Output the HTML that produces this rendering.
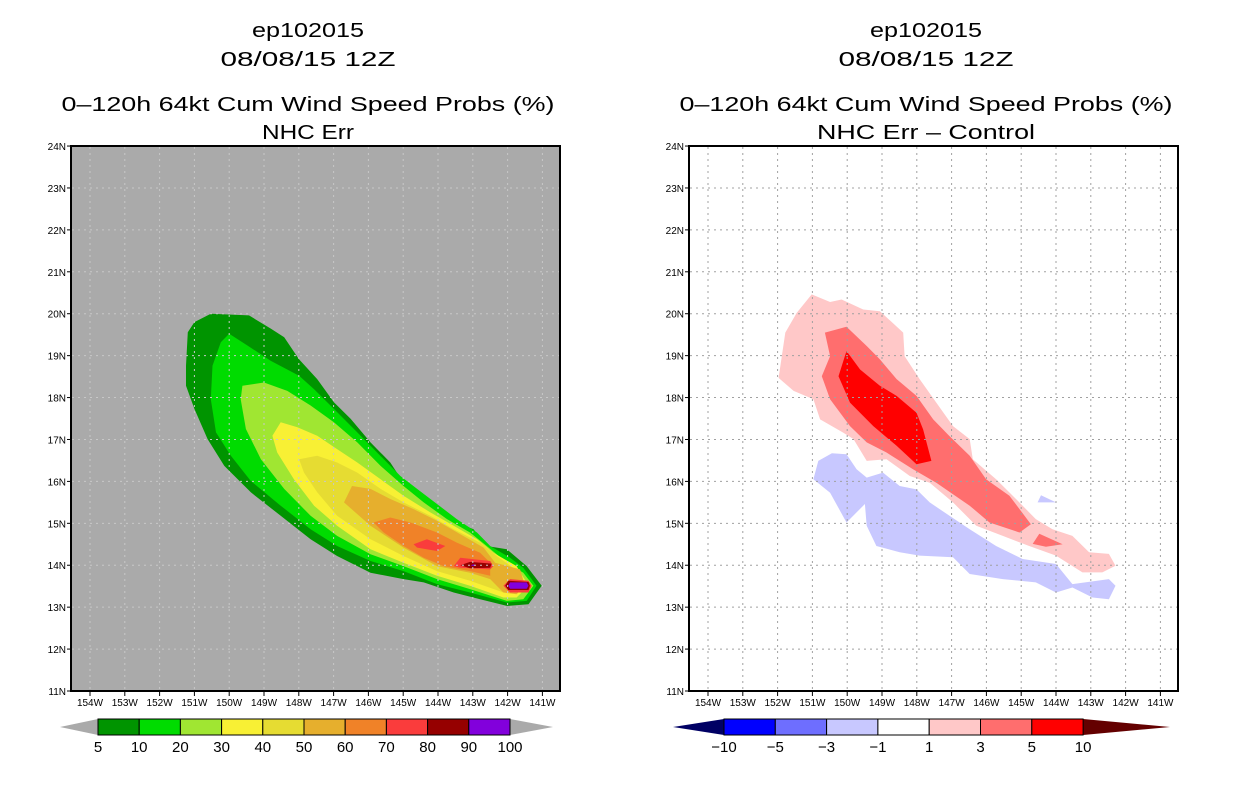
<!DOCTYPE html>
<html><head><meta charset="utf-8"><style>
body{margin:0;background:#fff;width:1236px;height:800px;overflow:hidden}
svg{display:block}
text{font-family:"Liberation Sans",sans-serif;fill:#000}
</style></head><body>
<svg id="chart" width="1236" height="800" viewBox="0 0 1236 800" xmlns="http://www.w3.org/2000/svg"></svg>
<script>
const lonTicks=[154,153,152,151,150,149,148,147,146,145,144,143,142,141];
const latTicks=[11,12,13,14,15,16,17,18,19,20,21,22,23,24];
const probLevels=["5","10","20","30","40","50","60","70","80","90","100"];
const probColors=["#009400","#00dc00","#a0e632","#f8f034","#e6dc32","#e6af2d","#f08228","#fa3c3c","#960000","#8200dc"];
const diffLevels=["−10","−5","−3","−1","1","3","5","10"];
const diffColors=["#0000ff","#6e6eff","#c8c8ff","#ffffff","#ffc8c8","#ff6e6e","#ff0000"];
const p5=[[151.0,19.8],[150.53,20.0],[149.43,19.96],[148.8,19.64],[148.42,19.44],[148.0,18.92],[147.47,18.44],[146.99,17.89],[146.51,17.49],[145.94,16.93],[145.37,16.45],[144.99,15.97],[144.51,15.74],[144.03,15.42],[143.46,15.02],[142.98,14.86],[142.6,14.46],[142.02,14.38],[141.45,13.98],[141.02,13.51],[141.4,13.07],[142.02,13.03],[142.79,13.19],[143.55,13.35],[144.41,13.59],[144.99,13.67],[145.94,13.82],[146.9,14.22],[147.66,14.62],[148.52,15.18],[149.38,15.74],[150.14,16.37],[150.62,17.01],[151.0,17.73],[151.24,18.28],[151.24,18.76],[151.19,19.56]];
const p10=[[150.0,19.52],[149.47,19.24],[148.81,18.88],[147.99,18.52],[147.56,18.2],[146.99,17.73],[146.32,17.17],[145.75,16.69],[145.08,16.13],[144.6,15.82],[144.03,15.46],[143.46,15.1],[142.88,14.78],[142.5,14.46],[141.93,14.18],[141.55,13.94],[141.17,13.51],[141.45,13.15],[142.02,13.11],[143.08,13.35],[144.03,13.55],[144.99,13.86],[145.94,14.1],[146.9,14.46],[147.66,14.86],[148.52,15.42],[149.38,16.01],[149.95,16.61],[150.38,17.17],[150.53,17.96],[150.48,18.76],[150.24,19.32]];
const p20=[[149.62,18.28],[149.0,18.36],[148.33,18.16],[147.66,17.81],[146.99,17.41],[146.32,16.93],[145.65,16.37],[144.99,15.89],[144.41,15.5],[143.74,15.1],[143.08,14.78],[142.6,14.46],[142.02,14.06],[141.55,13.82],[141.26,13.51],[141.55,13.19],[142.02,13.15],[143.08,13.43],[144.03,13.67],[144.99,13.98],[145.94,14.26],[146.9,14.7],[147.66,15.18],[148.42,15.82],[149.09,16.53],[149.52,17.25],[149.67,17.96]];
const p30=[[148.52,17.41],[148.04,17.29],[147.47,17.09],[146.9,16.77],[146.32,16.45],[145.65,16.05],[144.99,15.66],[144.22,15.26],[143.55,14.94],[142.88,14.62],[142.41,14.3],[141.74,13.98],[141.4,13.51],[141.74,13.23],[142.12,13.23],[143.08,13.51],[144.03,13.75],[144.99,14.06],[145.94,14.38],[146.9,14.94],[147.56,15.42],[148.14,16.05],[148.62,16.69],[148.76,17.09]];
const p40=[[147.99,16.53],[147.47,16.61],[146.9,16.45],[146.32,16.21],[145.65,15.82],[144.99,15.5],[144.22,15.18],[143.55,14.86],[142.79,14.54],[142.31,14.22],[141.64,13.82],[141.55,13.51],[141.74,13.35],[142.12,13.35],[143.08,13.63],[144.03,13.86],[144.99,14.22],[145.94,14.62],[146.9,15.18],[147.47,15.74],[147.85,16.21]];
const p50=[[146.47,15.89],[145.94,15.82],[145.37,15.58],[144.7,15.34],[144.03,15.06],[143.36,14.74],[142.69,14.42],[142.36,14.06],[141.64,13.9],[141.5,13.51],[141.74,13.31],[142.12,13.35],[142.5,13.67],[143.08,13.82],[144.03,13.98],[144.99,14.42],[145.94,14.94],[146.7,15.5]];
const p60=[[145.85,15.02],[145.37,15.14],[144.79,15.02],[144.03,14.78],[143.46,14.54],[142.79,14.3],[142.5,14.06],[142.5,13.75],[143.08,13.86],[143.84,13.98],[144.41,14.18],[144.99,14.46],[145.56,14.78]];
const p70a=[[144.7,14.5],[144.32,14.62],[143.79,14.46],[144.03,14.34],[144.6,14.42]];
const p70b=[[143.55,13.98],[143.36,14.18],[142.5,14.1],[142.41,13.98],[142.5,13.9],[143.36,13.94]];
const p70c=[[142.12,13.51],[141.93,13.67],[141.4,13.63],[141.31,13.51],[141.4,13.35],[141.93,13.35]];
const p80a=[[143.36,14.0],[143.08,14.08],[142.46,14.04],[142.5,13.94],[143.08,13.93]];
const p80b=[[142.07,13.51],[141.98,13.63],[141.4,13.6],[141.36,13.51],[141.4,13.41],[141.98,13.41]];
const p90a=[[141.98,13.51],[141.93,13.59],[141.45,13.59],[141.4,13.51],[141.45,13.44],[141.93,13.44]];
const p90b=[[142.98,14.02],[142.9,14.0],[142.98,13.98],[143.06,14.0]];
const d1=[[151.97,18.47],[151.78,19.55],[151.45,20.02],[151.02,20.46],[150.49,20.28],[150.16,20.34],[149.54,20.1],[149.06,20.06],[148.39,19.55],[148.35,18.99],[147.92,18.44],[147.44,17.88],[146.96,17.32],[146.48,17.01],[146.39,16.53],[145.72,16.05],[145.15,15.58],[144.58,15.1],[144.1,14.86],[143.53,14.7],[143.05,14.31],[142.48,14.27],[142.29,13.99],[142.67,13.83],[143.24,13.83],[144.0,14.23],[144.77,14.46],[145.53,14.7],[146.29,14.94],[146.96,15.5],[147.63,15.97],[148.2,16.13],[148.87,16.53],[149.44,16.49],[149.82,17.01],[150.11,17.16],[150.78,17.48],[150.97,17.96],[151.54,18.16]];
const d3=[[150.64,19.55],[150.02,19.69],[149.44,19.23],[149.06,18.91],[148.58,18.44],[148.01,18.04],[147.53,17.48],[147.06,17.08],[146.48,16.61],[146.01,16.05],[145.34,15.66],[144.72,14.98],[145.05,14.78],[145.91,15.02],[146.48,15.42],[147.44,15.97],[148.11,16.29],[148.87,16.69],[149.44,16.93],[149.92,17.32],[150.49,17.96],[150.73,18.51],[150.49,18.99]];
const d3b=[[144.67,14.51],[144.48,14.75],[143.81,14.5],[144.29,14.44]];
const d5=[[150.02,19.11],[149.63,18.67],[149.06,18.28],[148.58,18.04],[148.01,17.64],[147.82,17.24],[147.58,16.49],[148.01,16.41],[148.58,16.85],[149.25,17.32],[149.92,17.88],[150.25,18.51]];
const dn1=[[150.97,16.05],[150.83,16.49],[150.44,16.67],[150.02,16.65],[149.73,16.29],[149.44,16.09],[148.97,16.21],[148.49,15.89],[148.01,15.81],[147.63,15.5],[147.06,15.18],[146.48,14.86],[145.72,14.46],[144.96,14.15],[144.0,14.03],[143.53,13.55],[142.48,13.67],[142.29,13.51],[142.48,13.19],[142.95,13.23],[143.53,13.47],[144.0,13.35],[144.58,13.59],[145.53,13.67],[146.48,13.79],[146.96,14.19],[147.92,14.23],[148.49,14.31],[149.16,14.46],[149.44,14.94],[149.49,15.46],[150.02,15.02],[150.49,15.73]];
const dn1b=[[144.53,15.5],[144.43,15.67],[144.0,15.5]];

const NS="http://www.w3.org/2000/svg";
const svg=document.getElementById('chart');
function mk(tag,attrs,parent){const e=document.createElementNS(NS,tag);for(const k in attrs)e.setAttribute(k,attrs[k]);(parent||svg).appendChild(e);return e;}
const PX=34.8, PY=41.92;
function xs(x0,lon){return x0+(154-lon)*PX;}
function ys(lat){return 691-(lat-11)*PY;}

function panel(x0,left,bg,title4,name,cx){
  const g=mk('g',{});
  
  
  const titles=["ep102015","08/08/15 12Z","0–120h 64kt Cum Wind Speed Probs (%)",title4];
  const ty=[37,66,111,139];
  const tl=[112,175,493,title4.length>10?218:92];
  titles.forEach((t,i)=>{const e=mk('text',{x:cx-tl[i]/2,y:ty[i],'font-size':20,textLength:tl[i],lengthAdjust:'spacingAndGlyphs'},g);e.textContent=t;
    
    });
  const box=mk('rect',{x:left,y:146,width:489,height:545,fill:bg},g);
  
  
  const cg=mk('g',{},g);
  
  
  const grid=mk('g',{stroke:bg==='#ffffff'?'#a0a0a0':'#c8c8c8','stroke-width':1,'stroke-dasharray':'2,4'},g);
  
  
  lonTicks.forEach(l=>{const x=xs(x0,l);mk('line',{x1:x,y1:147,x2:x,y2:690},grid);
    mk('line',{x1:x,y1:691,x2:x,y2:696,stroke:'#000'},g);
    const t=mk('text',{x:x,y:706,'font-size':10,'text-anchor':'middle'},g);t.textContent=l+'W';
    
    });
  latTicks.forEach(l=>{const y=ys(l);if(l>11&&l<24)mk('line',{x1:left+1,y1:y,x2:left+488,y2:y},grid);
    mk('line',{x1:left-4,y1:y,x2:left,y2:y,stroke:'#000'},g);
    const t=mk('text',{x:left-5,y:y+4,'font-size':10,'text-anchor':'end'},g);t.textContent=l+'N';
    
    });
  const fr=mk('rect',{x:left,y:146,width:489,height:545,fill:'none',stroke:'#000','stroke-width':2},g);
  
  
  return cg;
}
function poly(g,x0,pts,color,name){
  const p=mk('polygon',{points:pts.map(q=>xs(x0,q[0]).toFixed(1)+','+ys(q[1]).toFixed(1)).join(' '),fill:color},g);
  
  
}
const L=panel(90,71,'#aaaaaa','NHC Err','left-panel-nhc-err',308);
[[p5,0],[p10,1],[p20,2],[p30,3],[p40,4],[p50,5],[p60,6],[p70a,7],[p70b,7],[p70c,7],[p80a,8],[p80b,8],[p90a,9],[p90b,9]].forEach(([pts,i])=>poly(L,90,pts,probColors[i],'contour-'+probLevels[i]+'pct'));
const R=panel(708,689,'#ffffff','NHC Err – Control','right-panel-difference',926);
[[d1,4],[d3,5],[d3b,5],[d5,6],[dn1,2],[dn1b,2]].forEach(([pts,i])=>poly(R,708,pts,diffColors[i],'diff-contour-'+i));

function colorbar(edges,colors,labels,lt,rt,lc,rc,name){
  const g=mk('g',{});
  
  
  const y0=719,y1=735,ym=727;
  const n=edges.length-1;
  mk('polygon',{points:`${lt},${ym} ${edges[0]},${y0} ${edges[0]},${y1}`,fill:lc},g);
  mk('polygon',{points:`${rt},${ym} ${edges[n]},${y0} ${edges[n]},${y1}`,fill:rc},g);
  colors.forEach((c,i)=>{const r=mk('rect',{x:edges[i],y:y0,width:edges[i+1]-edges[i],height:y1-y0,fill:c,stroke:'#000','stroke-width':1},g);
    
    });
  labels.forEach((t,i)=>{const e=mk('text',{x:edges[i],y:752,'font-size':15,'text-anchor':'middle'},g);e.textContent=t;
    
    });
}
const leftEdges=probLevels.map((_,i)=>98+i*41.2);
colorbar(leftEdges,probColors,probLevels,60,553,'#aaaaaa','#aaaaaa','colorbar-probs');
const rightEdges=diffLevels.map((_,i)=>724+i*51.3);
colorbar(rightEdges,diffColors,diffLevels,673,1170,'#000064','#640000','colorbar-diff');
</script>
</body></html>
